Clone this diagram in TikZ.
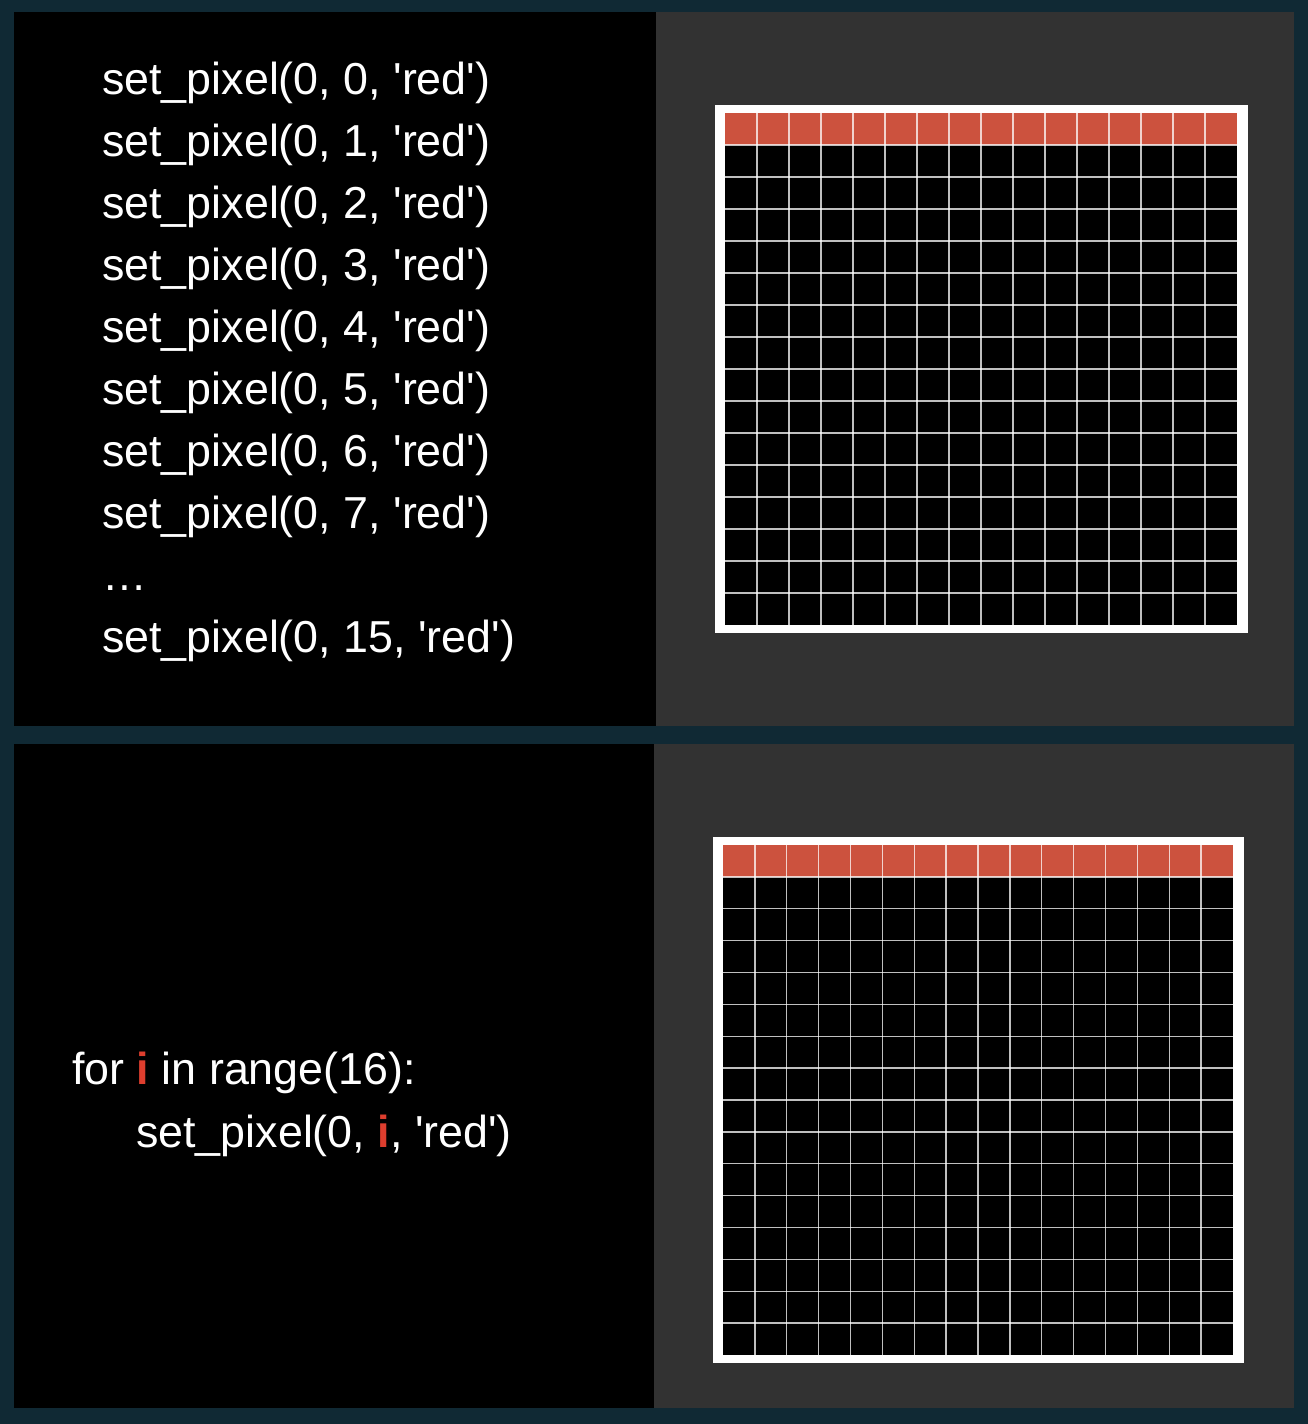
\documentclass[tikz,border=0pt]{standalone}
\usepackage{fontspec}
\setmainfont{Liberation Sans}
\definecolor{frameteal}{RGB}{16,41,52}
\definecolor{panelgray}{RGB}{50,50,50}
\definecolor{cellred}{RGB}{204,82,62}
\definecolor{loopred}{RGB}{222,62,46}
\newcommand{\qt}{\textquotesingle}
\newcommand{\loopvar}{\textcolor{loopred}{\textbf{i}}}
\usetikzlibrary{positioning}

\begin{document}
\begin{tikzpicture}[x=1pt, y=-1pt,
  code/.style={anchor=base west, inner sep=0pt, text=white, font=\fontsize{44.8}{62}\selectfont},
  gridline/.style={draw=white, opacity=0.75, line width=1.4pt}]
\useasboundingbox (0,0) rectangle (1308,1424);
% Backdrop and the four panels
\fill[frameteal] (0,0) rectangle (1308,1424);
\fill[black] (14,12) rectangle (656,726);
\fill[panelgray] (656,12) rectangle (1294,726);
\fill[black] (14,744) rectangle (654,1408);
\fill[panelgray] (654,744) rectangle (1294,1408);
% Unrolled calls
\foreach \k in {0,...,7}
  \node[code] (line\k) at (102,{94+62*\k}) {set\_pixel(0, \k, \qt red\qt)};
\node[code] (dots) at (102,590) {…};
\node[code] (last) at (102,652) {set\_pixel(0, 15, \qt red\qt)};
% Loop version
\node[code] (loophead) at (72,1084) {for \loopvar{} in range(16):};
\node[code] (loopbody) at (136,1147) {set\_pixel(0, \loopvar, \qt red\qt)};
% 16x16 pixel grids, first row painted
\foreach \gx/\gy/\gs in {725/113/32, 723/845/31.875} {
  \fill[white] (\gx-10,\gy-8) rectangle (\gx+16*\gs+11,\gy+16*\gs+8);
  \fill[black] (\gx,\gy) rectangle (\gx+16*\gs,\gy+16*\gs);
  \fill[cellred] (\gx,\gy) rectangle (\gx+16*\gs,\gy+\gs);
  \foreach \k in {1,...,15} {
    \draw[gridline] (\gx+\k*\gs,\gy) -- (\gx+\k*\gs,\gy+16*\gs);
    \draw[gridline] (\gx,\gy+\k*\gs) -- (\gx+16*\gs,\gy+\k*\gs);
  }
}
\end{tikzpicture}
\end{document}
